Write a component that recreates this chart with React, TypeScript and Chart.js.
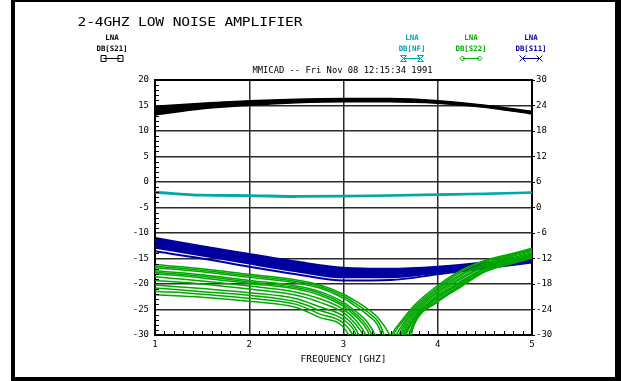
import React, { useEffect, useRef } from 'react';
import { Chart, registerables } from 'chart.js';

Chart.register(...registerables);

// ---------- data ----------
const FREQ = [1, 1.5, 2, 2.5, 3, 3.5, 4, 4.5, 5];
const FREQ_S22 = [1, 1.5, 2, 2.5, 2.75, 3, 3.125, 3.25, 3.375, 3.5, 3.625, 3.75, 4, 4.25, 4.5, 4.75, 5];

// DB[S21] (left axis) – Monte Carlo band, top to bottom
const S21_A = [14.8, 15.4, 15.9, 16.2, 16.3, 16.3, 15.9, 15.0, 13.8];
const S21_B = [14.4, 15.2, 15.7, 16.1, 16.2, 16.2, 15.8, 14.9, 13.7];
const S21_C = [14.0, 14.9, 15.5, 15.9, 16.0, 16.0, 15.7, 14.85, 13.6];
const S21_D = [13.6, 14.7, 15.3, 15.8, 15.9, 15.9, 15.6, 14.8, 13.5];
const S21_E = [13.2, 14.4, 15.1, 15.6, 15.8, 15.8, 15.5, 14.7, 13.4];

// DB[S11] (left axis)
const S11_A = [-11.0, -12.6, -14.1, -15.6, -16.8, -17.0, -16.6, -15.8, -15.0];
const S11_B = [-11.6, -13.1, -14.7, -16.2, -17.4, -17.6, -17.1, -16.1, -15.2];
const S11_C = [-12.2, -13.7, -15.3, -16.8, -18.0, -18.1, -17.5, -16.4, -15.4];
const S11_D = [-12.9, -14.4, -16.0, -17.5, -18.7, -18.7, -17.8, -16.6, -15.6];
const S11_E = [-13.6, -15.0, -16.6, -18.1, -19.3, -19.2, -18.1, -16.9, -15.8];

// DB[S22] (left axis)
const S22_1 = [-16.2, -17.0, -18.1, -19.2, -20.2, -22.0, -23.3, -24.8, -26.8, -30.3, -36, -28.0, -23.5, -20.5, -17.6, -16.2, -14.9];
const S22_2 = [-16.5, -17.3, -18.4, -19.5, -20.5, -22.4, -23.8, -25.4, -27.6, -33, -35, -27.7, -23.3, -20.3, -17.5, -16.1, -14.8];
const S22_3 = [-16.8, -17.6, -18.7, -19.8, -20.8, -22.8, -24.3, -26.0, -28.5, -36, -33, -27.5, -23.2, -20.1, -17.4, -16.0, -14.7];
const S22_4 = [-17.4, -18.2, -19.3, -20.4, -21.5, -23.6, -25.3, -27.4, -31.5, -38, -31.5, -27.0, -22.8, -19.8, -17.1, -15.8, -14.5];
const S22_5 = [-17.7, -18.5, -19.6, -20.7, -21.8, -24.0, -25.8, -28.2, -33, -39, -31, -26.8, -22.6, -19.6, -17.0, -15.6, -14.4];
const S22_6 = [-18.0, -18.8, -19.9, -21.0, -22.2, -24.4, -26.3, -29.0, -35, -40, -30.8, -26.6, -22.4, -19.4, -16.9, -15.5, -14.3];
const S22_7 = [-18.6, -19.4, -20.4, -21.6, -22.9, -25.0, -27.0, -30.5, -38, -38, -30.0, -26.2, -22.1, -19.0, -16.6, -15.3, -14.1];
const S22_8 = [-19.3, -20.0, -21.0, -22.2, -23.6, -25.6, -27.8, -31.5, -40, -36, -29.3, -25.8, -21.7, -18.7, -16.4, -15.0, -13.9];
const S22_9 = [-20.2, -20.9, -21.7, -22.9, -24.5, -26.3, -28.7, -34, -42, -34, -28.6, -25.4, -21.4, -18.3, -16.1, -14.8, -13.6];
const S22_10 = [-20.8, -21.5, -22.2, -23.5, -25.2, -27.0, -29.6, -37, -42, -32.5, -28.0, -25.0, -21.0, -18.0, -15.9, -14.6, -13.4];
const S22_11 = [-21.4, -22.0, -22.8, -24.0, -25.9, -27.7, -31, -40, -40, -31.2, -27.4, -24.6, -20.7, -17.6, -15.6, -14.4, -13.2];
const S22_12 = [-22.1, -22.6, -23.4, -24.6, -26.6, -28.5, -33, -42, -38, -30.4, -27.0, -24.2, -20.3, -17.3, -15.4, -14.2, -13.0];

// DB[NF] (right axis)
const NF_A = [3.7, 3.0, 2.9, 2.7, 2.75, 2.9, 3.1, 3.3, 3.6];
const NF_B = [3.5, 2.8, 2.7, 2.5, 2.6, 2.75, 2.95, 3.15, 3.45];

// tick labels
const X_TICKS = [1, 2, 3, 4, 5];
const Y_LEFT_TICKS = [-30, -25, -20, -15, -10, -5, 0, 5, 10, 15, 20];
const Y_RIGHT_TICKS = [-30, -24, -18, -12, -6, 0, 6, 12, 18, 24, 30];

const TITLE = '2-4GHZ LOW NOISE AMPLIFIER';
const SUBTITLE = 'MMICAD -- Fri Nov 08 12:15:34 1991';
const LEGEND_NAMES = ['DB[S21]', 'DB[NF]', 'DB[S22]', 'DB[S11]'];
const LEGEND_GROUP = 'LNA';
const X_TITLE = 'FREQUENCY [GHZ]';

// ---------- styles ----------
const BLACK = '#000000';
const TEAL = '#00a8a8';
const GREEN = '#00a800';
const BLUE = '#0000a0';
const MONO = '"DejaVu Sans Mono", monospace';

const pts = (xs: number[], ys: number[]) => xs.map((x, i) => ({ x, y: ys[i] }));

const decorPlugin = {
  id: 'decor',
  afterDraw(chart: any) {
    const ctx = chart.ctx as CanvasRenderingContext2D;
    const xs = chart.scales.x;
    const ys = chart.scales.y;
    ctx.save();
    // minor ticks (inward)
    ctx.strokeStyle = '#000';
    ctx.lineWidth = 1;
    ctx.beginPath();
    for (let i = 11; i < 50; i++) {
      if (i % 10 === 0) continue;
      const px = Math.round(xs.getPixelForValue(i / 10)) + 0.5;
      ctx.moveTo(px, ys.bottom);
      ctx.lineTo(px, ys.bottom - 4);
    }
    for (let v = -29; v < 20; v++) {
      if (v % 5 === 0) continue;
      const py = Math.round(ys.getPixelForValue(v)) + 0.5;
      ctx.moveTo(xs.left, py);
      ctx.lineTo(xs.left + 4, py);
    }
    ctx.stroke();

    // title (wide plotter-style glyphs)
    ctx.fillStyle = BLACK;
    ctx.font = `12px ${MONO}`;
    ctx.textBaseline = 'alphabetic';
    ctx.textAlign = 'left';
    for (let i = 0; i < TITLE.length; i++) {
      ctx.save();
      ctx.translate(77.5 + i * 8.65, 25.5);
      ctx.scale(1.22, 1);
      ctx.fillText(TITLE[i], 0, 0);
      ctx.restore();
    }

    // subtitle
    ctx.font = `8.8px ${MONO}`;
    ctx.textAlign = 'center';
    ctx.fillText(SUBTITLE, 342.5, 72.5);

    // legend blocks
    const blocks = [
      { cx: 112, color: BLACK, kind: 'box' },
      { cx: 412, color: TEAL, kind: 'hour' },
      { cx: 471, color: GREEN, kind: 'diamond' },
      { cx: 531, color: BLUE, kind: 'x' },
    ];
    blocks.forEach((b, i) => {
      ctx.fillStyle = b.color;
      ctx.strokeStyle = b.color;
      ctx.font = `bold 7.4px ${MONO}`;
      ctx.textAlign = 'center';
      ctx.fillText(LEGEND_GROUP, b.cx, 39.5);
      ctx.fillText(LEGEND_NAMES[i], b.cx, 51);
      const y = 58.5;
      const l = b.cx - 8.5;
      const r = b.cx + 8.5;
      ctx.lineWidth = 1;
      ctx.beginPath();
      ctx.moveTo(l, y);
      ctx.lineTo(r, y);
      ctx.stroke();
      [l, r].forEach((c) => {
        ctx.beginPath();
        if (b.kind === 'box') {
          ctx.rect(c - 2.5, y - 3, 5, 6);
        } else if (b.kind === 'diamond') {
          ctx.moveTo(c, y - 2.5);
          ctx.lineTo(c + 2.5, y);
          ctx.lineTo(c, y + 2.5);
          ctx.lineTo(c - 2.5, y);
          ctx.closePath();
        } else if (b.kind === 'x') {
          ctx.moveTo(c - 3, y - 3);
          ctx.lineTo(c + 3, y + 3);
          ctx.moveTo(c + 3, y - 3);
          ctx.lineTo(c - 3, y + 3);
        } else {
          ctx.moveTo(c - 3, y - 3);
          ctx.lineTo(c + 3, y - 3);
          ctx.lineTo(c - 3, y + 3);
          ctx.lineTo(c + 3, y + 3);
          ctx.closePath();
        }
        ctx.stroke();
      });
    });
    ctx.restore();
  },
};

export default function App() {
  const ref = useRef<HTMLCanvasElement | null>(null);

  useEffect(() => {
    if (!ref.current) return;
    const greenSets = [S22_1, S22_2, S22_3, S22_4, S22_5, S22_6, S22_7, S22_8, S22_9, S22_10, S22_11, S22_12].map((d) => ({
      data: pts(FREQ_S22, d),
      borderColor: GREEN,
      borderWidth: 1.5,
      yAxisID: 'y',
    }));
    const blueSets = [S11_A, S11_B, S11_C, S11_D, S11_E].map((d, i) => ({
      data: pts(FREQ, d),
      borderColor: BLUE,
      backgroundColor: BLUE,
      borderWidth: 2,
      fill: i === 0 ? '+3' : false,
      yAxisID: 'y',
    }));
    const blackSets = [S21_A, S21_B, S21_C, S21_D, S21_E].map((d, i) => ({
      data: pts(FREQ, d),
      borderColor: BLACK,
      backgroundColor: BLACK,
      borderWidth: 2,
      fill: i === 0 ? '+4' : false,
      yAxisID: 'y',
    }));
    const tealSets = [NF_A, NF_B].map((d) => ({
      data: pts(FREQ, d),
      borderColor: TEAL,
      borderWidth: 2,
      yAxisID: 'y2',
    }));

    const gridCommon = {
      color: '#2a2a2a',
      lineWidth: 1.5,
      drawTicks: false,
    };

    const chart = new Chart(ref.current, {
      type: 'line',
      data: { datasets: [...greenSets, ...blueSets, ...blackSets, ...tealSets] as any },
      options: {
        animation: false,
        responsive: false,
        maintainAspectRatio: false,
        layout: { padding: { top: 80, left: 0, right: 0, bottom: 0 } },
        plugins: {
          legend: { display: false },
          tooltip: { enabled: false },
          title: { display: false },
        },
        elements: {
          point: { radius: 0 },
          line: { cubicInterpolationMode: 'monotone' },
        },
        scales: {
          x: {
            type: 'linear',
            min: 1,
            max: 5,
            afterBuildTicks: (s: any) => {
              s.ticks = X_TICKS.map((v) => ({ value: v }));
            },
            afterFit: (s: any) => {
              s.height = 46;
            },
            grid: gridCommon,
            border: { display: true, color: '#000', width: 2 },
            ticks: { font: { family: MONO, size: 9 }, color: '#000', padding: 4, maxRotation: 0 },
            title: {
              display: true,
              text: X_TITLE,
              font: { family: MONO, size: 9.5 },
              color: '#000',
              padding: { top: 0, bottom: 16 },
            },
          },
          y: {
            type: 'linear',
            position: 'left',
            min: -30,
            max: 20,
            afterBuildTicks: (s: any) => {
              s.ticks = Y_LEFT_TICKS.map((v) => ({ value: v }));
            },
            afterFit: (s: any) => {
              s.width = 155;
            },
            grid: {
              ...gridCommon,
              lineWidth: (c: any) => (c.tick && c.tick.value === 20 ? 2 : 1.5),
              color: (c: any) => (c.tick && c.tick.value === 20 ? '#000' : '#2a2a2a'),
            },
            border: { display: true, color: '#000', width: 2 },
            ticks: { font: { family: MONO, size: 9 }, color: '#000', padding: 6 },
          },
          y2: {
            type: 'linear',
            position: 'right',
            min: -30,
            max: 30,
            afterBuildTicks: (s: any) => {
              s.ticks = Y_RIGHT_TICKS.map((v) => ({ value: v }));
            },
            afterFit: (s: any) => {
              s.width = 89;
            },
            grid: { drawOnChartArea: false, drawTicks: true, tickLength: 3, color: '#000', lineWidth: 1 },
            border: { display: true, color: '#000', width: 2 },
            ticks: { font: { family: MONO, size: 9 }, color: '#000', padding: 1 },
          },
        },
      } as any,
      plugins: [decorPlugin as any],
    });
    return () => chart.destroy();
  }, []);

  return (
    <div style={{ position: 'fixed', left: 0, top: 0, width: 621, height: 381, background: '#fff' }}>
      <canvas ref={ref} width={621} height={381} style={{ display: 'block', width: 621, height: 381 }} />
      <div
        style={{
          position: 'absolute',
          left: 11,
          top: 0,
          width: 610,
          height: 381,
          boxSizing: 'border-box',
          borderTop: '2px solid #000',
          borderLeft: '4px solid #000',
          borderRight: '6px solid #000',
          borderBottom: '4px solid #000',
          pointerEvents: 'none',
        }}
      />
    </div>
  );
}
